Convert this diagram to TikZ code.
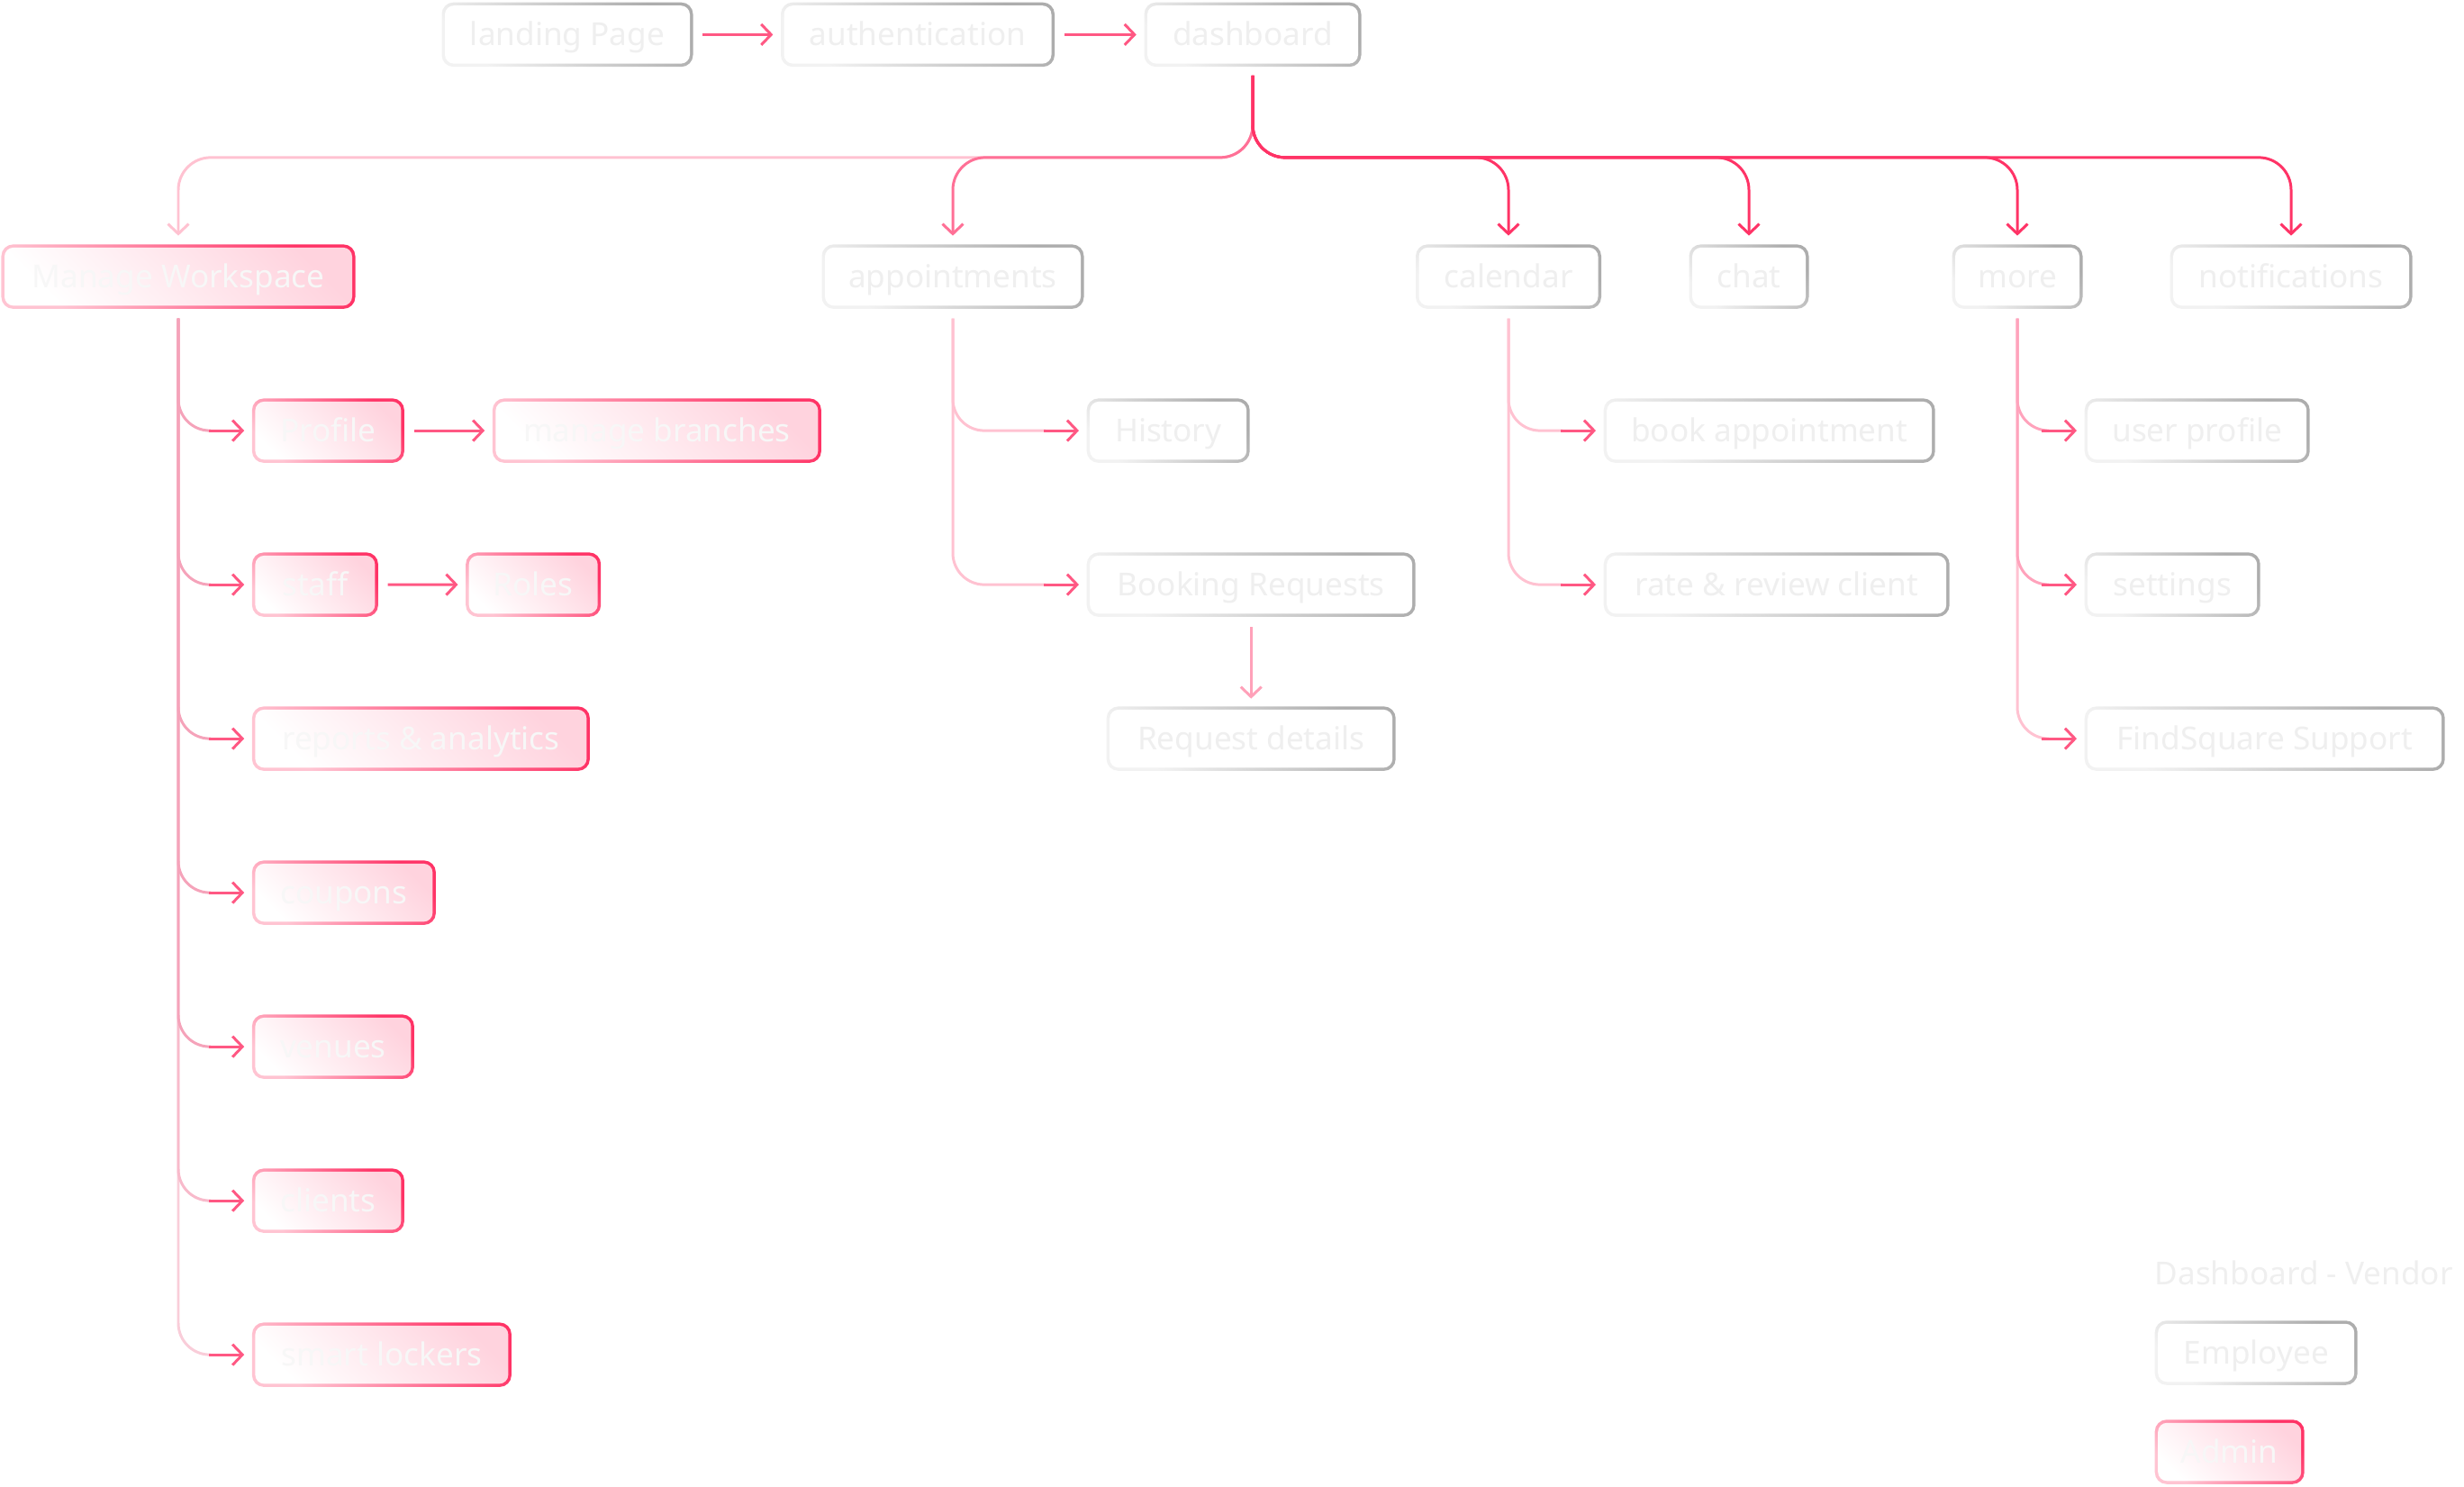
\documentclass[tikz,border=0pt]{standalone}
\usepackage{fontspec}
\setmainfont{Noto Sans}
\usepackage{xcolor}
\usepackage{tikz}
\usetikzlibrary{arrows.meta,positioning}
\definecolor{hot}{HTML}{FF3366}
\definecolor{pinkmid}{HTML}{FF7096}
\definecolor{pinkpale}{HTML}{FFC2D1}
\definecolor{pinkfill}{HTML}{FFD3DE}
\definecolor{pinkedge}{HTML}{FFC4D2}
\definecolor{greyhi}{HTML}{ADADAD}
\definecolor{greylo}{HTML}{F2F2F2}
\definecolor{scrtxt}{HTML}{EFEFEF}
\definecolor{spinemw}{HTML}{F5A3BA}
\definecolor{spinemore}{HTML}{FFA3BC}
\newcommand{\twig}[3]{% spine colour, parent, child
  \draw[line width=0.85pt,#1,rounded corners=0.35cm] ([yshift=-0.1cm]#2.south) |- ([xshift=-0.45cm]#3.west);
  \draw[arrout] ([xshift=-0.47cm]#3.west) -- (#3.west);}

\begin{document}
\begin{tikzpicture}

\tikzset{
	scr/.style={
		rectangle,
		rounded corners=0.13cm,
		minimum height=0.715cm,
		inner sep=0pt,
		text height=8pt,
		text depth=1pt,
		text=scrtxt,
		top color=greyhi,
		bottom color=greylo,
		shading angle=-45,
		path picture={\fill[white,rounded corners=0.1cm]
			([shift={(0.035,0.035)}]path picture bounding box.south west) rectangle
			([shift={(-0.035,-0.035)}]path picture bounding box.north east);},
		font=\fontsize{10}{12}\selectfont},
	adm/.style={
		rectangle,
		rounded corners=0.13cm,
		minimum height=0.715cm,
		inner sep=0pt,
		text height=8pt,
		text depth=1pt,
		text=white!97!black,
		top color=hot,
		bottom color=pinkedge,
		shading angle=-45,
		path picture={\shade[top color=pinkfill,bottom color=white,shading angle=-45,rounded corners=0.1cm]
			([shift={(0.035,0.035)}]path picture bounding box.south west) rectangle
			([shift={(-0.035,-0.035)}]path picture bounding box.north east);},
		font=\fontsize{10}{12}\selectfont},
	arrout/.style={
		-{Straight Barb[length=1.1mm,width=2.3mm]},
		line width=0.85pt,
		color=pinkmid!60!hot,
		shorten >=0.08cm},
	arrin/.style={
		{Straight Barb[length=1.1mm,width=2.3mm]}-,
		line width=0.85pt,
		color=pinkmid!60!hot,
		shorten <=0.08cm,
		shorten >=0.1cm},
	bus/.style={
		-{Straight Barb[length=1.1mm,width=2.3mm]},
		line width=0.85pt,
		rounded corners=0.36cm}
}

\useasboundingbox (0,0) rectangle (27.36,-16.5);

% top row
\node[scr,minimum width=2.79cm] (land) at (6.30,-0.384) {landing Page};
\node[scr,minimum width=3.04cm,right=3.89cm of land.center,anchor=center] (auth) {authentication}
   edge[arrin] (land);
\node[scr,minimum width=2.41cm,right=3.72cm of auth.center,anchor=center] (dash) {dashboard}
   edge[arrin] (auth);

% second row
\node[adm,minimum width=3.93cm] (mw) at (1.98,-3.071) {Manage Workspace};
\node[scr,minimum width=2.91cm,right=8.60cm of mw.center,anchor=center] (appt) {appointments};
\node[scr,minimum width=2.06cm,right=6.17cm of appt.center,anchor=center] (cal) {calendar};
\node[scr,minimum width=1.33cm,right=2.67cm of cal.center,anchor=center] (chat) {chat};
\node[scr,minimum width=1.45cm,right=2.98cm of chat.center,anchor=center] (more) {more};
\node[scr,minimum width=2.69cm,right=3.04cm of more.center,anchor=center] (notif) {notifications};

\draw[bus,pinkpale] ([yshift=-0.09cm]dash.south) -- ([yshift=-1cm]dash.south) -| ([yshift=0.09cm]mw.north);
\draw[bus,pinkmid] ([yshift=-0.09cm]dash.south) -- ([yshift=-1cm]dash.south) -| ([yshift=0.09cm]appt.north);
\draw[bus,hot] ([yshift=-0.09cm]dash.south) -- ([yshift=-1cm]dash.south) -| ([yshift=0.09cm]cal.north);
\draw[bus,hot] ([yshift=-0.09cm]dash.south) -- ([yshift=-1cm]dash.south) -| ([yshift=0.09cm]chat.north);
\draw[bus,hot] ([yshift=-0.09cm]dash.south) -- ([yshift=-1cm]dash.south) -| ([yshift=0.09cm]more.north);
\draw[bus,hot] ([yshift=-0.09cm]dash.south) -- ([yshift=-1cm]dash.south) -| ([yshift=0.09cm]notif.north);

% manage workspace
\node[adm,minimum width=1.69cm,anchor=west] (prof) at (2.792,-4.781) {Profile};
\node[adm,minimum width=3.65cm,anchor=west] (mbr) at (5.462,-4.781) {manage branches}
   edge[arrin] (prof);
\node[adm,minimum width=1.40cm,below=1.71cm of prof.west,anchor=west] (staff) {staff};
\node[adm,minimum width=1.50cm,anchor=west] (roles) at (5.165,-6.491) {Roles}
   edge[arrin] (staff);
\node[adm,minimum width=3.75cm,below=1.71cm of staff.west,anchor=west] (rep) {reports \& analytics};
\node[adm,minimum width=2.04cm,below=1.71cm of rep.west,anchor=west] (coup) {coupons};
\node[adm,minimum width=1.80cm,below=1.71cm of coup.west,anchor=west] (ven) {venues};
\node[adm,minimum width=1.69cm,below=1.71cm of ven.west,anchor=west] (cli) {clients};
\node[adm,minimum width=2.88cm,below=1.71cm of cli.west,anchor=west] (lock) {smart lockers};

\twig{spinemw!55!white}{mw}{lock}
\twig{spinemw!75!white}{mw}{cli}
\twig{spinemw}{mw}{ven}
\twig{spinemw}{mw}{coup}
\twig{spinemw}{mw}{rep}
\twig{spinemw}{mw}{staff}
\twig{spinemw}{mw}{prof}

% appointments
\node[scr,minimum width=1.81cm,anchor=west] (hist) at (12.06,-4.781) {History};
\node[scr,minimum width=3.65cm,below=1.71cm of hist.west,anchor=west] (breq) {Booking Requests};
\node[scr,minimum width=3.21cm,below=1.71cm of breq.center,anchor=center] (reqd) {Request details}
   edge[arrin,pinkpale!60!pinkmid] (breq);
\twig{pinkpale}{appt}{breq}
\twig{pinkpale}{appt}{hist}

% calendar
\node[scr,minimum width=3.68cm,anchor=west] (bkap) at (17.80,-4.781) {book appointment};
\node[scr,minimum width=3.84cm,below=1.71cm of bkap.west,anchor=west] (rate) {rate \& review client};
\twig{pinkpale}{cal}{rate}
\twig{pinkpale}{cal}{bkap}

% more
\node[scr,minimum width=2.50cm,anchor=west] (uprof) at (23.14,-4.781) {user profile};
\node[scr,minimum width=1.95cm,below=1.71cm of uprof.west,anchor=west] (sett) {settings};
\node[scr,minimum width=4.00cm,below=1.71cm of sett.west,anchor=west] (fsup) {FindSquare Support};
\twig{pinkpale}{more}{fsup}
\twig{spinemore}{more}{sett}
\twig{spinemore}{more}{uprof}

% legend
\node[anchor=west,inner sep=0pt,text=scrtxt,font=\fontsize{10}{12}\selectfont] (ttl) at (23.92,-14.13) {Dashboard - Vendor};
\node[scr,minimum width=2.25cm,anchor=west] (emp) at (23.92,-15.02) {Employee};
\node[adm,minimum width=1.66cm,anchor=west] (admn) at (23.92,-16.12) {Admin};

\end{tikzpicture}
\end{document}
